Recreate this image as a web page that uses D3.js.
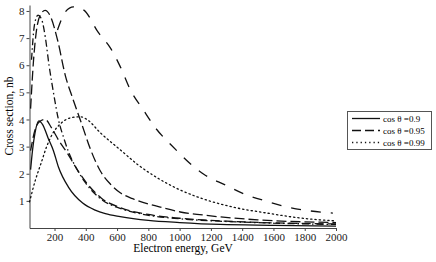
<!DOCTYPE html>
<meta charset="utf-8">
<style>
body { margin: 0; background: #fff; }
svg { font-family: "Liberation Serif", "DejaVu Serif", serif; }
.axis path, .axis line { stroke: #444; stroke-width: 1; }
.axis text { font-size: 11px; fill: #222; font-family: "Liberation Serif", serif; }
.curve { fill: none; stroke: #111; stroke-width: 1.3; }
</style>
<script src="https://d3js.org/d3.v7.min.js"></script>
<body>
<svg id="chart" width="436" height="262"></svg>
<script>
// energies (GeV) and cross sections (nb)
var solidE = [47, 60, 75, 100, 125, 160, 193, 225, 290, 380, 460, 525, 620, 800, 1000, 1260, 1600, 2000];
var solidV = [2.15, 2.9, 3.5, 3.95, 3.8, 3.3, 2.85, 2.25, 1.5, 0.92, 0.66, 0.53, 0.42, 0.28, 0.2, 0.13, 0.1, 0.07];

var dashE = [47, 72, 100, 140, 180, 230, 283, 340, 400, 500, 620, 800, 1000, 1300, 1600, 2000];
var dashV = [2.85, 3.55, 3.9, 4.0, 3.7, 3.2, 2.75, 2.2, 1.7, 1.1, 0.75, 0.5, 0.36, 0.25, 0.19, 0.15];

var dotE = [40, 78, 117, 149, 187, 238, 302, 366, 410, 493, 621, 736, 857, 1004, 1131, 1342, 1559, 1770, 2000];
var dotV = [0.96, 1.77, 2.44, 2.99, 3.47, 3.84, 4.06, 4.1, 3.99, 3.51, 2.88, 2.32, 1.85, 1.4, 1.11, 0.77, 0.55, 0.37, 0.26];

var dashDotE = [53, 72, 95, 117, 142, 165, 193, 225, 260, 290, 340, 400, 500, 620, 800, 1000, 1300, 1600, 2000];
var dashDotV = [6.2, 7.5, 7.85, 7.7, 7.0, 6.0, 5.0, 4.0, 3.3, 2.8, 2.2, 1.65, 1.05, 0.72, 0.47, 0.34, 0.24, 0.18, 0.13];

var longE = [47, 66, 85, 110, 140, 174, 219, 270, 315, 370, 430, 493, 560, 620, 700, 876, 1004, 1150, 1240, 1500, 2000];
var longV = [4.4, 6.2, 7.3, 7.86, 8.02, 7.8, 6.94, 5.6, 4.8, 3.9, 2.9, 2.1, 1.6, 1.3, 1.08, 0.77, 0.59, 0.48, 0.42, 0.3, 0.2];

var wideE = [219, 270, 321, 385, 481, 557, 621, 685, 768, 851, 946, 1157, 1291, 1418, 1559, 1693, 1834, 1980];
var wideV = [7.3, 7.97, 8.15, 8.04, 7.2, 6.64, 5.94, 5.09, 4.35, 3.65, 3.06, 1.97, 1.59, 1.24, 0.98, 0.77, 0.63, 0.55];

var xTicks = [200, 400, 600, 800, 1000, 1200, 1400, 1600, 1800, 2000];
var yTicks = [1, 2, 3, 4, 5, 6, 7, 8];

var legendLabels = ["cos \u03b8 =0.9", "cos \u03b8 =0.95", "cos \u03b8 =0.99"];

var curves = [
  { e: solidE, v: solidV, dash: null },
  { e: dashE, v: dashV, dash: "9,4" },
  { e: dotE, v: dotV, dash: "1.3,3" },
  { e: dashDotE, v: dashDotV, dash: "7,3,1.5,3" },
  { e: longE, v: longV, dash: "10,4" },
  { e: wideE, v: wideV, dash: "10,10" }
];

var svg = d3.select("#chart");

var x = d3.scaleLinear().domain([40, 2000]).range([29.5, 336]);
var y = d3.scaleLinear().domain([0, 8.22]).range([228, 5]);

svg.append("g")
  .attr("class", "axis")
  .attr("transform", "translate(0,228)")
  .call(d3.axisBottom(x).tickValues(xTicks).tickFormat(d3.format("d"))
    .tickSize(3).tickSizeOuter(0).tickPadding(2))
  .attr("font-family", null);

svg.append("g")
  .attr("class", "axis")
  .attr("transform", "translate(29.5,0)")
  .call(d3.axisLeft(y).tickValues(yTicks).tickSize(3).tickSizeOuter(0).tickPadding(2))
  .attr("font-family", null);

var line = d3.line()
  .x(d => x(d[0]))
  .y(d => y(d[1]))
  .curve(d3.curveMonotoneX);

curves.forEach(c => {
  svg.append("path")
    .attr("class", "curve")
    .attr("d", line(d3.zip(c.e, c.v)))
    .attr("stroke-dasharray", c.dash)
    .attr("stroke-linecap", c.dash && c.dash.startsWith("1.3") ? "round" : "butt");
});

svg.append("text")
  .attr("x", 183).attr("y", 252)
  .attr("text-anchor", "middle")
  .style("font-size", "11.5px")
  .text("Electron energy, GeV");

svg.append("text")
  .attr("transform", "translate(13,116) rotate(-90)")
  .attr("text-anchor", "middle")
  .style("font-size", "11.5px")
  .text("Cross section, nb");

// legend
var lg = svg.append("g");
lg.append("rect")
  .attr("x", 347.5).attr("y", 111.5)
  .attr("width", 84).attr("height", 38)
  .attr("fill", "#fff").attr("stroke", "#555");

var legendDash = [null, "9,4", "1.3,3"];
legendLabels.forEach((t, i) => {
  var ly = 118.5 + i * 12;
  lg.append("line")
    .attr("class", "curve")
    .attr("x1", 352).attr("x2", 380)
    .attr("y1", ly).attr("y2", ly)
    .attr("stroke-dasharray", legendDash[i]);
  lg.append("text")
    .attr("x", 383).attr("y", ly + 3)
    .style("font-size", "9px")
    .text(t);
});
</script>
</body>
